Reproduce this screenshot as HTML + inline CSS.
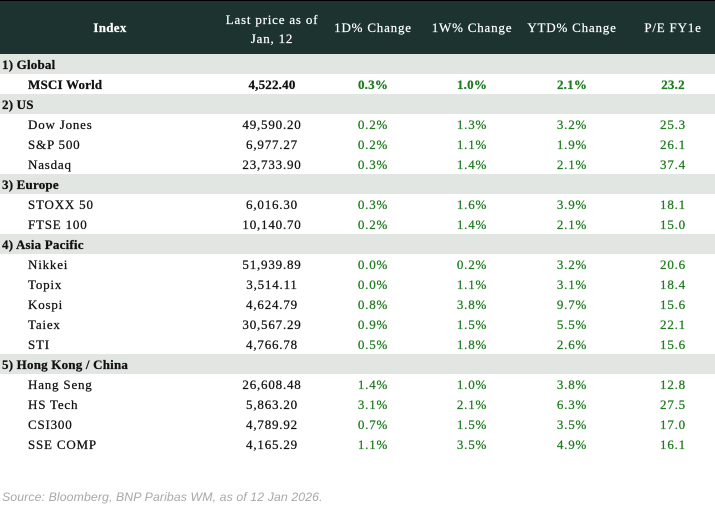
<!DOCTYPE html>
<html><head><meta charset="utf-8">
<style>
html,body{margin:0;padding:0;background:#fff;}
body{width:715px;height:505px;position:relative;overflow:hidden;font-family:"Liberation Serif","DejaVu Serif",serif;font-size:13px;color:#111;}
.hdr{position:absolute;left:0;top:0;width:715px;height:54px;background:#1c3330;border-top:1px solid #000;box-sizing:border-box;}
.h{position:absolute;color:#fff;text-align:center;width:110px;letter-spacing:0.8px;line-height:19px;-webkit-text-stroke:0.2px #fff;}
.row{position:absolute;left:0;width:715px;height:20px;line-height:20px;}
.g{background:#e1e6e3;}
.row div{position:absolute;top:0.5px;height:20px;white-space:nowrap;-webkit-text-stroke:0.25px currentColor;}
.grp{left:2px;font-weight:bold;letter-spacing:0.2px;}
.nm{left:28px;letter-spacing:0.8px;}
.c{width:100px;text-align:center;letter-spacing:0.8px;}
.p{left:222px;color:#111;}
.d{left:323px;color:#1e7b1e;}
.w{left:422px;color:#1e7b1e;}
.y{left:522px;color:#1e7b1e;}
.e{left:623px;color:#1e7b1e;}
.b div{font-weight:bold;letter-spacing:0.2px;}
.src{position:absolute;left:2px;top:490px;font-family:"Liberation Sans","DejaVu Sans",sans-serif;font-style:italic;font-size:12.3px;color:#a8a8a8;letter-spacing:0.1px;}
</style></head><body>
<div class="hdr">
  <div class="h" style="left:55px;top:17px;font-weight:bold;letter-spacing:0.3px;">Index</div>
  <div class="h" style="left:207px;top:9px;width:130px;">Last price as of<br>Jan, 12</div>
  <div class="h" style="left:318px;top:17px;">1D% Change</div>
  <div class="h" style="left:417px;top:17px;">1W% Change</div>
  <div class="h" style="left:517px;top:17px;">YTD% Change</div>
  <div class="h" style="left:618px;top:17px;">P/E FY1e</div>
</div>

<div class="row g" style="top:54px"><div class="grp">1) Global</div></div>
<div class="row b" style="top:74px"><div class="nm">MSCI World</div><div class="c p">4,522.40</div><div class="c d">0.3%</div><div class="c w">1.0%</div><div class="c y">2.1%</div><div class="c e">23.2</div></div>

<div class="row g" style="top:94px"><div class="grp">2) US</div></div>
<div class="row" style="top:114px"><div class="nm">Dow Jones</div><div class="c p">49,590.20</div><div class="c d">0.2%</div><div class="c w">1.3%</div><div class="c y">3.2%</div><div class="c e">25.3</div></div>
<div class="row" style="top:134px"><div class="nm">S&amp;P 500</div><div class="c p">6,977.27</div><div class="c d">0.2%</div><div class="c w">1.1%</div><div class="c y">1.9%</div><div class="c e">26.1</div></div>
<div class="row" style="top:154px"><div class="nm">Nasdaq</div><div class="c p">23,733.90</div><div class="c d">0.3%</div><div class="c w">1.4%</div><div class="c y">2.1%</div><div class="c e">37.4</div></div>

<div class="row g" style="top:174px"><div class="grp">3) Europe</div></div>
<div class="row" style="top:194px"><div class="nm">STOXX 50</div><div class="c p">6,016.30</div><div class="c d">0.3%</div><div class="c w">1.6%</div><div class="c y">3.9%</div><div class="c e">18.1</div></div>
<div class="row" style="top:214px"><div class="nm">FTSE 100</div><div class="c p">10,140.70</div><div class="c d">0.2%</div><div class="c w">1.4%</div><div class="c y">2.1%</div><div class="c e">15.0</div></div>

<div class="row g" style="top:234px"><div class="grp">4) Asia Pacific</div></div>
<div class="row" style="top:254px"><div class="nm">Nikkei</div><div class="c p">51,939.89</div><div class="c d">0.0%</div><div class="c w">0.2%</div><div class="c y">3.2%</div><div class="c e">20.6</div></div>
<div class="row" style="top:274px"><div class="nm">Topix</div><div class="c p">3,514.11</div><div class="c d">0.0%</div><div class="c w">1.1%</div><div class="c y">3.1%</div><div class="c e">18.4</div></div>
<div class="row" style="top:294px"><div class="nm">Kospi</div><div class="c p">4,624.79</div><div class="c d">0.8%</div><div class="c w">3.8%</div><div class="c y">9.7%</div><div class="c e">15.6</div></div>
<div class="row" style="top:314px"><div class="nm">Taiex</div><div class="c p">30,567.29</div><div class="c d">0.9%</div><div class="c w">1.5%</div><div class="c y">5.5%</div><div class="c e">22.1</div></div>
<div class="row" style="top:334px"><div class="nm">STI</div><div class="c p">4,766.78</div><div class="c d">0.5%</div><div class="c w">1.8%</div><div class="c y">2.6%</div><div class="c e">15.6</div></div>

<div class="row g" style="top:354px"><div class="grp">5) Hong Kong / China</div></div>
<div class="row" style="top:374px"><div class="nm">Hang Seng</div><div class="c p">26,608.48</div><div class="c d">1.4%</div><div class="c w">1.0%</div><div class="c y">3.8%</div><div class="c e">12.8</div></div>
<div class="row" style="top:394px"><div class="nm">HS Tech</div><div class="c p">5,863.20</div><div class="c d">3.1%</div><div class="c w">2.1%</div><div class="c y">6.3%</div><div class="c e">27.5</div></div>
<div class="row" style="top:414px"><div class="nm">CSI300</div><div class="c p">4,789.92</div><div class="c d">0.7%</div><div class="c w">1.5%</div><div class="c y">3.5%</div><div class="c e">17.0</div></div>
<div class="row" style="top:434px"><div class="nm">SSE COMP</div><div class="c p">4,165.29</div><div class="c d">1.1%</div><div class="c w">3.5%</div><div class="c y">4.9%</div><div class="c e">16.1</div></div>

<div class="src">Source: Bloomberg, BNP Paribas WM, as of 12 Jan 2026.</div>
</body></html>
